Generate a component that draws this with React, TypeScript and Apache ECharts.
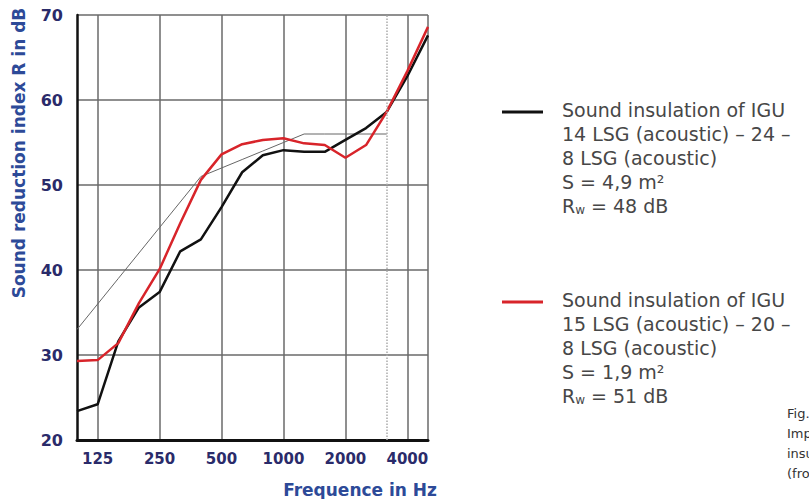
import React, { useEffect, useRef } from "react";
import * as echarts from "echarts";

const frequencies = ["100", "125", "160", "200", "250", "315", "400", "500", "630", "800", "1000", "1250", "1600", "2000", "2500", "3150", "4000", "5000"];
const labelledFrequencies = ["125", "250", "500", "1000", "2000", "4000"];
const igu48 = [23.4, 24.2, 31.6, 35.6, 37.4, 42.2, 43.6, 47.4, 51.5, 53.5, 54.1, 53.9, 53.9, 55.3, 56.7, 58.6, 62.8, 67.6];
const igu51 = [29.3, 29.4, 31.4, 36.1, 40.1, 45.5, 50.6, 53.6, 54.8, 55.3, 55.5, 54.9, 54.7, 53.2, 54.7, 58.6, 63.4, 68.6];
const referenceCurve = [33, 36, 39, 42, 45, 48, 51, 52, 53, 54, 55, 56, 56, 56, 56, 56, null, null];
const yTicks = [20, 30, 40, 50, 60, 70];
const legend1 = ["Sound insulation of IGU", "14 LSG (acoustic) – 24 –", "8 LSG (acoustic)", "S = 4,9 m²", "R{w|w} = 48 dB"];
const legend2 = ["Sound insulation of IGU", "15 LSG (acoustic) – 20 –", "8 LSG (acoustic)", "S = 1,9 m²", "R{w|w} = 51 dB"];
const figureNote = ["Fig.", "Improved", "insulation", "(from"];

const FONT = "'DejaVu Sans', Verdana, sans-serif";

export default function App() {
  const ref = useRef<HTMLDivElement>(null);
  useEffect(() => {
    if (!ref.current) return;
    const chart = echarts.init(ref.current, null, { renderer: "svg" });
    const gridLine = (i: number) => labelledFrequencies.includes(frequencies[i]) || i === frequencies.length - 1;
    const legendBlock = (lines: string[], top: number, color: string) => {
      const els: any[] = [
        { type: "line", shape: { x1: 502, y1: top + 2, x2: 543, y2: top + 2 }, style: { stroke: color, lineWidth: 3 } },
      ];
      lines.forEach((t, i) => {
        els.push({
          type: "text",
          x: 562,
          y: top + i * 24,
          style: {
            text: t,
            fill: "#474747",
            font: `19px ${FONT}`,
            verticalAlign: "middle",
            rich: { w: { fontSize: 12, fill: "#474747", fontFamily: FONT, padding: [8, 0, 0, 0] } },
          },
        });
      });
      return els;
    };
    chart.setOption({
      animation: false,
      backgroundColor: "#ffffff",
      grid: { left: 77, right: 381, top: 15, bottom: 59 },
      xAxis: {
        type: "category",
        data: frequencies,
        boundaryGap: false,
        axisLine: { show: true, onZero: false, lineStyle: { color: "#111", width: 3 } },
        axisTick: { show: false },
        axisLabel: {
          interval: (i: number) => labelledFrequencies.includes(frequencies[i]),
          color: "#2a2b6a",
          fontWeight: "bold",
          fontSize: 15,
          fontFamily: FONT,
          margin: 11,
        },
        splitLine: { show: true, interval: (i: number) => gridLine(i), lineStyle: { color: "#6a6a6a", width: 1.5 } },
      },
      yAxis: {
        type: "value",
        min: yTicks[0],
        max: yTicks[yTicks.length - 1],
        interval: 10,
        axisLine: { show: true, lineStyle: { color: "#111", width: 2.5 } },
        axisTick: { show: false },
        axisLabel: { color: "#2a2b6a", fontWeight: "bold", fontSize: 16, fontFamily: FONT, margin: 14 },
        splitLine: { show: true, lineStyle: { color: "#6a6a6a", width: 1.5 } },
      },
      series: [
        {
          type: "line",
          data: referenceCurve,
          symbol: "none",
          lineStyle: { color: "#666", width: 1 },
          markLine: {
            silent: true,
            symbol: "none",
            label: { show: false },
            lineStyle: { type: "dotted", color: "#aaa", width: 1.5 },
            data: [{ xAxis: "3150" }],
          },
        },
        { type: "line", data: igu48, symbol: "none", lineStyle: { color: "#111", width: 2.5 } },
        { type: "line", data: igu51, symbol: "none", lineStyle: { color: "#d8242a", width: 2.5 } },
      ],
      graphic: [
        {
          type: "text",
          x: 19,
          y: 153,
          rotation: Math.PI / 2,
          style: {
            text: "Sound reduction index R in dB",
            fill: "#2d4a98",
            font: `bold 17px ${FONT}`,
            align: "center",
            verticalAlign: "middle",
          },
        },
        {
          type: "text",
          x: 437,
          y: 490,
          style: {
            text: "Frequence in Hz",
            fill: "#2d4a98",
            font: `bold 17px ${FONT}`,
            align: "right",
            verticalAlign: "middle",
          },
        },
        ...legendBlock(legend1, 110, "#111"),
        ...legendBlock(legend2, 300, "#d8242a"),
        ...figureNote.map((t, i) => ({
          type: "text",
          x: 787,
          y: 413 + i * 20,
          style: { text: t, fill: "#333", font: `13px ${FONT}`, verticalAlign: "middle" },
        })),
      ],
    });
    return () => chart.dispose();
  }, []);
  return <div ref={ref} style={{ position: "absolute", left: 0, top: 0, width: 809, height: 499 }} />;
}
